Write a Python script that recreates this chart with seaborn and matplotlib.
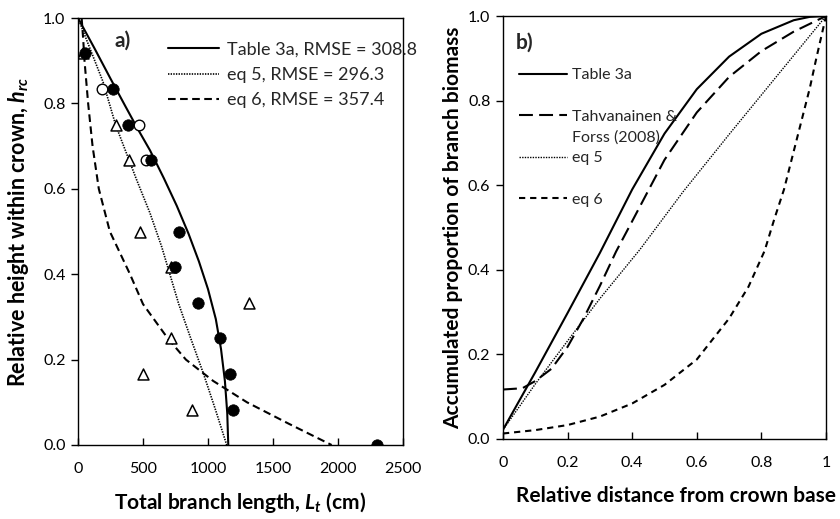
import matplotlib
matplotlib.use("Agg")
import matplotlib.pyplot as plt
import seaborn as sns
import pandas as pd
from matplotlib.lines import Line2D

# ---------------- Panel a data ----------------
filled_x = [55, 272, 387, 559, 779, 746, 926, 1092, 1169, 1195, 2300]
filled_h = [0.917, 0.833, 0.75, 0.667, 0.5, 0.417, 0.333, 0.25, 0.167, 0.083, 0.0]
open_x = [182, 472, 523]
open_h = [0.833, 0.75, 0.667]
tri_x = [35, 290, 392, 477, 715, 1318, 715, 503, 874]
tri_h = [0.917, 0.75, 0.667, 0.5, 0.417, 0.333, 0.25, 0.167, 0.083]

t3a_x = [0, 125, 250, 365, 460, 554, 660, 760, 850, 930, 1000, 1060, 1100, 1130, 1148, 1156]
t3a_h = [1.0, 0.93, 0.858, 0.793, 0.74, 0.69, 0.625, 0.56, 0.495, 0.43, 0.365, 0.295, 0.225, 0.15, 0.075, 0.0]
eq5a_x = [0, 192, 290, 451, 554, 644, 775, 867, 964, 1055, 1144]
eq5a_h = [1.0, 0.851, 0.749, 0.621, 0.543, 0.464, 0.33, 0.25, 0.168, 0.085, 0.0]
eq6a_x = [28, 40, 50, 78, 112, 160, 245, 400, 500, 690, 830, 1040, 1300, 1620, 1951]
eq6a_h = [1.0, 0.95, 0.9, 0.8, 0.7, 0.6, 0.5, 0.4, 0.33, 0.25, 0.2, 0.15, 0.1, 0.05, 0.0]

labels_a = ["Table 3a, RMSE = 308.8", "eq 5, RMSE = 296.3", "eq 6, RMSE = 357.4"]
xticks_a = [0, 500, 1000, 1500, 2000, 2500]
yticks = [0.0, 0.2, 0.4, 0.6, 0.8, 1.0]

# ---------------- Panel b data ----------------
t3b_x = [0, 0.1, 0.2, 0.3, 0.4, 0.5, 0.6, 0.7, 0.8, 0.9, 0.95, 1.0]
t3b_y = [0.022, 0.158, 0.298, 0.44, 0.59, 0.722, 0.827, 0.904, 0.958, 0.99, 0.998, 1.0]
tf_x = [0, 0.06, 0.1, 0.15, 0.2, 0.25, 0.3, 0.35, 0.4, 0.5, 0.6, 0.7, 0.8, 0.9, 1.0]
tf_y = [0.117, 0.12, 0.137, 0.166, 0.218, 0.286, 0.362, 0.443, 0.515, 0.66, 0.772, 0.856, 0.917, 0.963, 1.0]
eq5b_x = [0, 0.1, 0.2, 0.3, 0.424, 0.558, 0.7, 0.85, 1.0]
eq5b_y = [0.022, 0.13, 0.232, 0.332, 0.448, 0.585, 0.72, 0.86, 1.0]
eq6b_x = [0, 0.1, 0.2, 0.3, 0.4, 0.5, 0.6, 0.7, 0.76, 0.81, 0.84, 0.87, 0.9, 0.92, 0.95, 0.97, 1.0]
eq6b_y = [0.013, 0.021, 0.033, 0.053, 0.084, 0.128, 0.188, 0.285, 0.36, 0.445, 0.52, 0.59, 0.68, 0.74, 0.83, 0.9, 1.0]

labels_b = ["Table 3a", "Tahvanainen &", "Forss (2008)", "eq 5", "eq 6"]
xticks_b = [0, 0.2, 0.4, 0.6, 0.8, 1.0]
xticklabels_b = ["0", "0.2", "0.4", "0.6", "0.8", "1"]

# ---------------- Style ----------------
sns.set_style("ticks")
FONT = "Lato"
plt.rcParams["font.family"] = [FONT, "DejaVu Sans"]
plt.rcParams["mathtext.fontset"] = "custom"
plt.rcParams["mathtext.it"] = "Lato:italic:bold"
plt.rcParams["mathtext.rm"] = "Lato:bold"
plt.rcParams["mathtext.bf"] = "Lato:bold"
plt.rcParams["lines.scale_dashes"] = False

fig = plt.figure(figsize=(8.4, 5.19), dpi=100)
axa = fig.add_axes([78 / 840, 1 - 445 / 519, 325 / 840, 427 / 519])
axb = fig.add_axes([503 / 840, 1 - 439 / 519, 323 / 840, 423 / 519])

LW = 1.5
dot_style = (0, (1.0, 0.9))
dash_a = (0, (5.5, 3.2))
long_dash = (0, (10, 4.5))
short_dash = (0, (4.5, 3.5))

def curve(ax, xs, ys, ls, lw=LW):
    df = pd.DataFrame({"x": xs, "y": ys})
    sns.lineplot(data=df, x="x", y="y", sort=False, estimator=None, ax=ax,
                 color="black", lw=lw, linestyle=ls, legend=False)

# Panel a
curve(axa, t3a_x, t3a_h, "-")
curve(axa, eq5a_x, eq5a_h, dot_style, lw=1.2)
curve(axa, eq6a_x, eq6a_h, dash_a)
sns.scatterplot(x=tri_x, y=tri_h, ax=axa, marker="^", s=62, facecolor="white",
                edgecolor="black", linewidth=1.1, zorder=3)
sns.scatterplot(x=open_x, y=open_h, ax=axa, marker="o", s=58, facecolor="white",
                edgecolor="black", linewidth=1.0, zorder=4)
sns.scatterplot(x=filled_x, y=filled_h, ax=axa, marker="o", s=68, color="black",
                edgecolor="black", linewidth=0.5, zorder=5)

axa.set_xlim(0, 2500)
axa.set_ylim(0, 1.0)
axa.set_xticks(xticks_a)
axa.set_xticklabels([str(v) for v in xticks_a])
axa.set_yticks(yticks)
axa.set_yticklabels([f"{v:.1f}" for v in yticks])
axa.set_xlabel(r"Total branch length, $L_t$ (cm)", fontsize=15, fontweight="bold")
axa.set_ylabel(r"Relative height within crown, $h_{rc}$", fontsize=15.5, fontweight="bold")
axa.xaxis.set_label_coords(0.5, -0.105)
axa.yaxis.set_label_coords(-0.145, 0.5)
axa.text(0.138, 0.946, "a)", transform=axa.transAxes, fontsize=15, fontweight="bold",
         ha="center", va="center")

ha = [Line2D([], [], color="black", lw=LW, ls="-"),
      Line2D([], [], color="black", lw=1.2, ls=dot_style),
      Line2D([], [], color="black", lw=LW, ls=dash_a)]
axa.legend(ha, labels_a, loc="upper left", bbox_to_anchor=(0.277, 0.945), frameon=False,
           fontsize=13, handlelength=2.8, handletextpad=0.45, labelspacing=0.52,
           borderpad=0, borderaxespad=0)

# Panel b
curve(axb, t3b_x, t3b_y, "-")
curve(axb, tf_x, tf_y, long_dash)
curve(axb, eq5b_x, eq5b_y, dot_style, lw=1.0)
curve(axb, eq6b_x, eq6b_y, short_dash)

axb.set_xlim(0, 1.0)
axb.set_ylim(0, 1.0)
axb.set_xticks(xticks_b)
axb.set_xticklabels(xticklabels_b)
axb.set_yticks(yticks)
axb.set_yticklabels([f"{v:.1f}" for v in yticks])
axb.set_xlabel("Relative distance from crown base", fontsize=15, fontweight="bold")
axb.set_ylabel("Accumulated proportion of branch biomass", fontsize=15, fontweight="bold")
axb.xaxis.set_label_coords(0.535, -0.11)
axb.yaxis.set_label_coords(-0.125, 0.5)
axb.text(0.068, 0.936, "b)", transform=axb.transAxes, fontsize=15, fontweight="bold",
         ha="center", va="center")

blank = Line2D([], [], color="none")
hb = [Line2D([], [], color="black", lw=LW, ls="-"), blank,
      Line2D([], [], color="black", lw=LW, ls=long_dash), blank,
      Line2D([], [], color="black", lw=1.0, ls=dot_style), blank,
      Line2D([], [], color="black", lw=LW, ls=short_dash)]
lb = [labels_b[0], " ", labels_b[1], labels_b[2], labels_b[3], " ", labels_b[4]]
axb.legend(hb, lb, loc="upper left", bbox_to_anchor=(0.05, 0.877), frameon=False,
           fontsize=11.5, handlelength=3.0, handletextpad=0.3, labelspacing=0.41,
           borderpad=0, borderaxespad=0)

for ax in (axa, axb):
    for sp in ax.spines.values():
        sp.set_visible(True)
        sp.set_color("black")
        sp.set_linewidth(1.0)
    ax.tick_params(axis="y", direction="out", length=5, width=1, labelsize=11.5, pad=4, colors="black")
    ax.tick_params(axis="x", direction="in", length=5, width=1, labelsize=11.5, pad=12.5, colors="black")
    ax.xaxis.label.set_color("black")
    ax.yaxis.label.set_color("black")

fig.savefig("out.png", dpi=100)
